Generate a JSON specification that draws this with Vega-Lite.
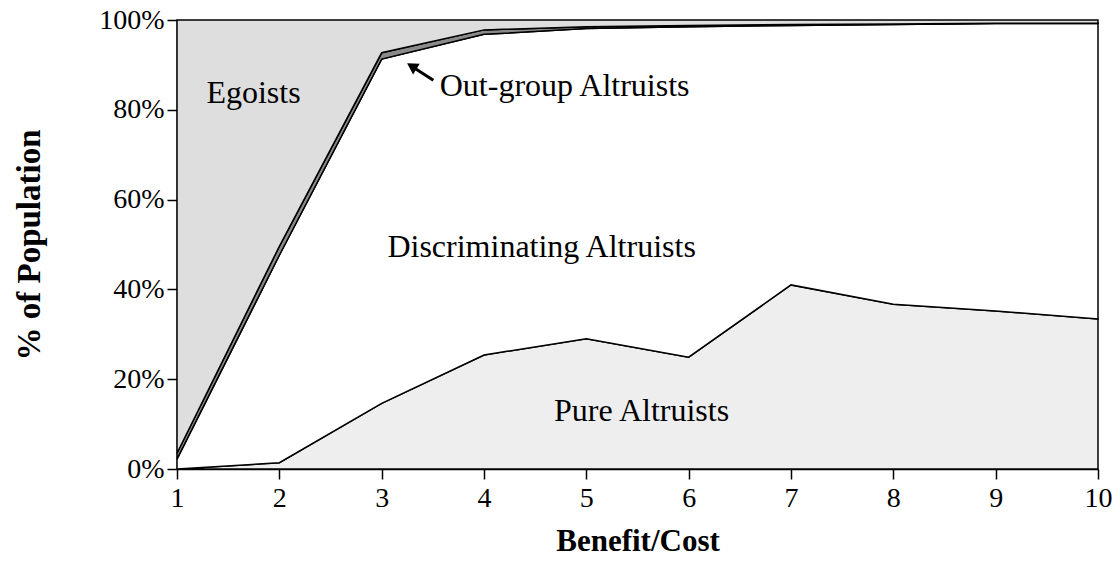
{
  "$schema": "https://vega.github.io/schema/vega-lite/v6.json",
  "width": 921,
  "height": 449,
  "autosize": {"type": "none"},
  "padding": {"left": 177, "top": 20, "right": 19, "bottom": 110},
  "background": "white",
  "config": {
    "view": {"stroke": null},
    "font": "Liberation Serif",
    "axis": {"grid": false, "labelFlush": false, "labelOverlap": false, "domainColor": "black", "tickColor": "black", "labelColor": "black", "titleColor": "black", "domainWidth": 1.5, "tickWidth": 1.5, "tickSize": 10, "labelFont": "Liberation Serif", "titleFont": "Liberation Serif", "labelFontSize": 28, "titleFontSize": 31, "titleFontWeight": "bold"}
  },
  "datasets": {
    "pop": [
      {"bc": 1, "group": "Pure Altruists", "ord": 1, "share": 0},
      {"bc": 1, "group": "Discriminating Altruists", "ord": 2, "share": 2.2},
      {"bc": 1, "group": "Out-group Altruists", "ord": 3, "share": 1.3},
      {"bc": 1, "group": "Egoists", "ord": 4, "share": 96.5},
      {"bc": 2, "group": "Pure Altruists", "ord": 1, "share": 1.4},
      {"bc": 2, "group": "Discriminating Altruists", "ord": 2, "share": 46.2},
      {"bc": 2, "group": "Out-group Altruists", "ord": 3, "share": 2.0},
      {"bc": 2, "group": "Egoists", "ord": 4, "share": 50.4},
      {"bc": 3, "group": "Pure Altruists", "ord": 1, "share": 14.6},
      {"bc": 3, "group": "Discriminating Altruists", "ord": 2, "share": 76.7},
      {"bc": 3, "group": "Out-group Altruists", "ord": 3, "share": 1.4},
      {"bc": 3, "group": "Egoists", "ord": 4, "share": 7.3},
      {"bc": 4, "group": "Pure Altruists", "ord": 1, "share": 25.4},
      {"bc": 4, "group": "Discriminating Altruists", "ord": 2, "share": 71.4},
      {"bc": 4, "group": "Out-group Altruists", "ord": 3, "share": 1.0},
      {"bc": 4, "group": "Egoists", "ord": 4, "share": 2.2},
      {"bc": 5, "group": "Pure Altruists", "ord": 1, "share": 29.0},
      {"bc": 5, "group": "Discriminating Altruists", "ord": 2, "share": 69.1},
      {"bc": 5, "group": "Out-group Altruists", "ord": 3, "share": 0.4},
      {"bc": 5, "group": "Egoists", "ord": 4, "share": 1.5},
      {"bc": 6, "group": "Pure Altruists", "ord": 1, "share": 24.9},
      {"bc": 6, "group": "Discriminating Altruists", "ord": 2, "share": 73.6},
      {"bc": 6, "group": "Out-group Altruists", "ord": 3, "share": 0.3},
      {"bc": 6, "group": "Egoists", "ord": 4, "share": 1.2},
      {"bc": 7, "group": "Pure Altruists", "ord": 1, "share": 41.0},
      {"bc": 7, "group": "Discriminating Altruists", "ord": 2, "share": 57.8},
      {"bc": 7, "group": "Out-group Altruists", "ord": 3, "share": 0.2},
      {"bc": 7, "group": "Egoists", "ord": 4, "share": 1.0},
      {"bc": 8, "group": "Pure Altruists", "ord": 1, "share": 36.7},
      {"bc": 8, "group": "Discriminating Altruists", "ord": 2, "share": 62.3},
      {"bc": 8, "group": "Out-group Altruists", "ord": 3, "share": 0.1},
      {"bc": 8, "group": "Egoists", "ord": 4, "share": 0.9},
      {"bc": 9, "group": "Pure Altruists", "ord": 1, "share": 35.2},
      {"bc": 9, "group": "Discriminating Altruists", "ord": 2, "share": 64.0},
      {"bc": 9, "group": "Out-group Altruists", "ord": 3, "share": 0.1},
      {"bc": 9, "group": "Egoists", "ord": 4, "share": 0.7},
      {"bc": 10, "group": "Pure Altruists", "ord": 1, "share": 33.4},
      {"bc": 10, "group": "Discriminating Altruists", "ord": 2, "share": 65.8},
      {"bc": 10, "group": "Out-group Altruists", "ord": 3, "share": 0.1},
      {"bc": 10, "group": "Egoists", "ord": 4, "share": 0.7}
    ],
    "labels": [
      {"bc": 1.748, "pct": 83.7, "label": "Egoists"},
      {"bc": 4.788, "pct": 85.3, "label": "Out-group Altruists"},
      {"bc": 4.563, "pct": 49.5, "label": "Discriminating Altruists"},
      {"bc": 5.54, "pct": 12.9, "label": "Pure Altruists"}
    ],
    "arrow": [
      {"bc": 3.505, "pct": 86.6},
      {"bc": 3.30, "pct": 89.6}
    ],
    "head": [
      {"bc": 3.294, "pct": 89.7}
    ]
  },
  "layer": [
    {
      "data": {"name": "pop"},
      "mark": {"type": "area", "stroke": "black", "strokeWidth": 1.5, "strokeJoin": "miter", "opacity": 1},
      "encoding": {
        "x": {"field": "bc", "type": "quantitative", "scale": {"domain": [1, 10], "nice": false, "zero": false}, "axis": {"values": [1,2,3,4,5,6,7,8,9,10], "format": "d", "title": "Benefit/Cost", "labelPadding": 5, "titlePadding": 14}},
        "y": {"field": "share", "type": "quantitative", "stack": "zero", "scale": {"domain": [0, 100], "nice": false}, "axis": {"values": [0,20,40,60,80,100], "labelExpr": "datum.value + '%'", "title": "% of Population", "titleFontSize": 33, "labelPadding": 3, "titlePadding": 52}},
        "color": {"field": "group", "type": "nominal", "scale": {"domain": ["Pure Altruists", "Discriminating Altruists", "Out-group Altruists", "Egoists"], "range": ["#eeeeee", "#ffffff", "#8a8a8a", "#dedede"]}, "legend": null},
        "order": {"field": "ord", "type": "quantitative"}
      }
    },
    {
      "data": {"name": "labels"},
      "mark": {"type": "text", "font": "Liberation Serif", "fontSize": 32, "align": "center", "baseline": "middle", "color": "black"},
      "encoding": {
        "x": {"field": "bc", "type": "quantitative"},
        "y": {"field": "pct", "type": "quantitative"},
        "text": {"field": "label"}
      }
    },
    {
      "data": {"name": "arrow"},
      "mark": {"type": "line", "color": "black", "strokeWidth": 3},
      "encoding": {
        "x": {"field": "bc", "type": "quantitative"},
        "y": {"field": "pct", "type": "quantitative"}
      }
    },
    {
      "data": {"name": "head"},
      "mark": {"type": "point", "shape": "triangle-up", "filled": true, "color": "black", "size": 160, "angle": 302, "opacity": 1},
      "encoding": {
        "x": {"field": "bc", "type": "quantitative"},
        "y": {"field": "pct", "type": "quantitative"}
      }
    }
  ]
}
